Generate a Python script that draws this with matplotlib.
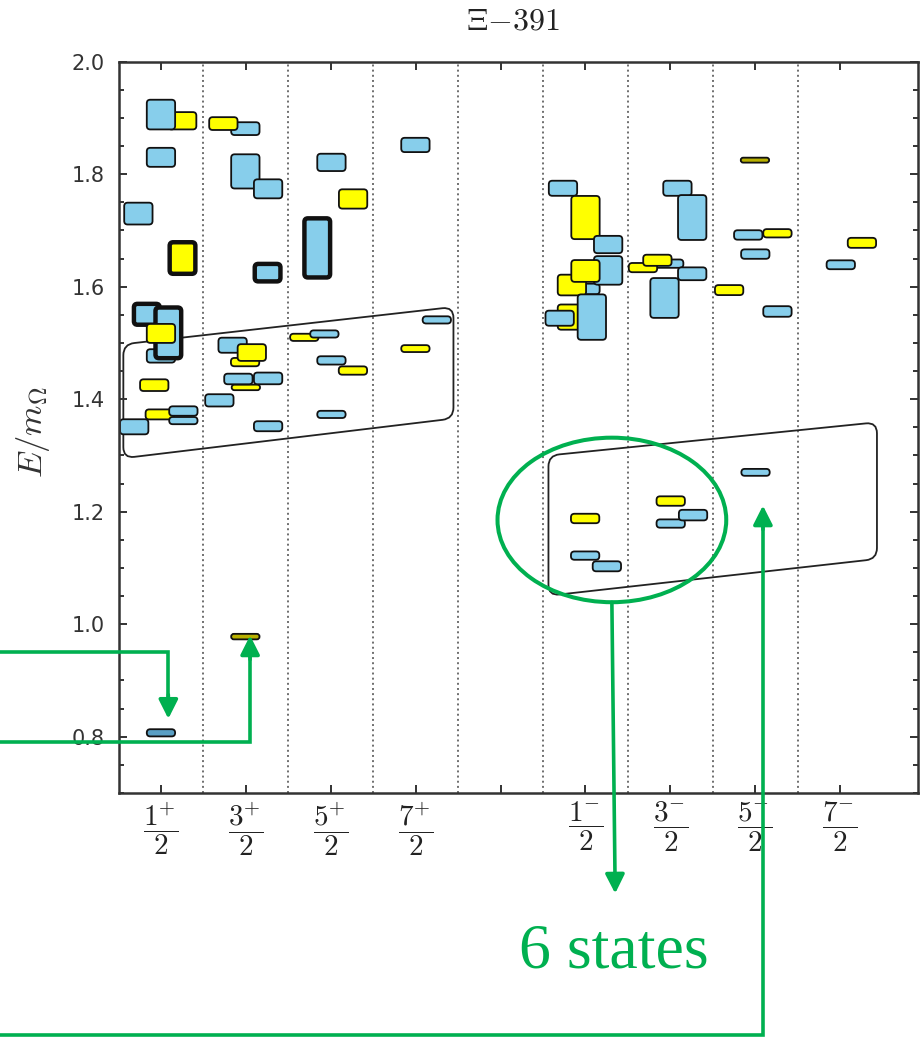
import numpy as np
import matplotlib
matplotlib.use('Agg')
import matplotlib.pyplot as plt
from matplotlib.patches import FancyBboxPatch, Ellipse, PathPatch
from matplotlib.path import Path
from matplotlib.ticker import MultipleLocator, FormatStrFormatter

plt.rcParams['mathtext.fontset'] = 'cm'

# ---------------- data ----------------
title = r'$\Xi{-}391$'
ylabel = r'$E/m_{\Omega}$'
jp_labels = [r'$\dfrac{1^{+}}{2}$', r'$\dfrac{3^{+}}{2}$', r'$\dfrac{5^{+}}{2}$',
             r'$\dfrac{7^{+}}{2}$', '',
             r'$\dfrac{1^{-}}{2}$', r'$\dfrac{3^{-}}{2}$', r'$\dfrac{5^{-}}{2}$',
             r'$\dfrac{7^{-}}{2}$']

# energy levels (drawing order): horizontal position in J^P-column units,
# energy E/m_Omega, vertical extent (uncertainty band), kind, bold outline
level_x = [0.25, 0.0, 0.0, -0.266, 0.254, 0.0, -0.167, 0.087, 0.0, -0.079,
           -0.014, 0.264, 0.264, -0.315, 0.0,
           0.994, 0.735, 0.994, 1.262, 1.256, 0.991, 0.844, 1.07, 1.0, 0.912,
           1.262, 0.688, 1.262, 0.994,
           2.008, 2.263, 1.841, 1.688, 1.925, 2.008, 2.261, 2.008,
           2.997, 3.249, 2.997,
           4.735, 5.0, 5.267, 5.0, 5.267, 4.84, 5.0, 4.84, 4.696, 5.075,
           6.083, 6.257, 5.986, 5.677, 5.847, 6.257, 5.931,
           6.996, 6.917, 7.261, 7.0, 6.692, 7.261,
           8.256, 8.007,
           4.996, 4.996, 5.252, 6.004, 6.004, 6.267, 7.003]
level_E = [1.895, 1.906, 1.830, 1.730, 1.651, 1.477, 1.551, 1.518, 1.517, 1.425,
           1.373, 1.362, 1.379, 1.351, 0.807,
           1.881, 1.890, 1.805, 1.774, 1.625, 1.466, 1.496, 1.483, 1.421, 1.436,
           1.437, 1.398, 1.352, 0.978,
           1.821, 1.756, 1.669, 1.510, 1.516, 1.469, 1.451, 1.373,
           1.852, 1.541, 1.490,
           1.775, 1.723, 1.675, 1.596, 1.629, 1.603, 1.628, 1.546, 1.544, 1.546,
           1.775, 1.723, 1.641, 1.634, 1.647, 1.623, 1.580,
           1.825, 1.692, 1.695, 1.658, 1.594, 1.556,
           1.678, 1.639,
           1.188, 1.122, 1.103, 1.219, 1.179, 1.194, 1.270]
level_dE = [0.034, 0.056, 0.037, 0.042, 0.064, 0.027, 0.045, 0.098, 0.037, 0.024,
            0.021, 0.016, 0.020, 0.030, 0.016,
            0.026, 0.026, 0.064, 0.037, 0.039, 0.018, 0.030, 0.033, 0.013, 0.022,
            0.024, 0.025, 0.021, 0.013,
            0.034, 0.0375, 0.113, 0.016, 0.016, 0.018, 0.018, 0.016,
            0.0286, 0.016, 0.0155,
            0.030, 0.080, 0.034, 0.022, 0.054, 0.040, 0.042, 0.048, 0.030, 0.084,
            0.030, 0.083, 0.018, 0.0196, 0.023, 0.026, 0.074,
            0.012, 0.020, 0.018, 0.020, 0.021, 0.022,
            0.021, 0.019,
            0.020, 0.018, 0.021, 0.020, 0.018, 0.022, 0.0155]
level_kind = ['y', 'b', 'b', 'b', 'y', 'b', 'b', 'b', 'y', 'y',
              'y', 'b', 'b', 'b', 'd',
              'b', 'y', 'b', 'b', 'b', 'y', 'b', 'y', 'y', 'b',
              'b', 'b', 'b', 'o',
              'b', 'y', 'b', 'y', 'b', 'b', 'y', 'b',
              'b', 'b', 'y',
              'b', 'y', 'b', 'b', 'b', 'y', 'y', 'y', 'b', 'b',
              'b', 'b', 'b', 'y', 'y', 'b', 'b',
              'o', 'b', 'y', 'b', 'y', 'b',
              'y', 'b',
              'y', 'b', 'b', 'y', 'b', 'b', 'b']
level_bold = [0, 0, 0, 0, 1, 0, 1, 1, 0, 0,
              0, 0, 0, 0, 0,
              0, 0, 0, 0, 1, 0, 0, 0, 0, 0,
              0, 0, 0, 0,
              0, 0, 1, 0, 0, 0, 0, 0,
              0, 0, 0,
              0, 0, 0, 0, 0, 0, 0, 0, 0, 0,
              0, 0, 0, 0, 0, 0, 0,
              0, 0, 0, 0, 0, 0,
              0, 0,
              0, 0, 0, 0, 0, 0, 0]

# slanted bands enclosing the low-lying states
band_pos_x = [-0.443, 3.445]
band_pos_top = [1.4977, 1.564]
band_pos_bot = [1.2952, 1.3657]
band_neg_x = [4.564, 8.433]
band_neg_top = [1.300, 1.359]
band_neg_bot = [1.0507, 1.116]

# green overlay annotations
ann_text = '6 states'
ann1_y, ann1_x, ann1_tip = 0.950, 0.087, 0.832
ann2_y, ann2_x, ann2_tip = 0.790, 1.05, 0.980
ell_center, ell_w, ell_h = (5.311, 1.1854), 2.694, 0.2925
ann3_start, ann3_tip = (5.311, 1.039), (5.35, 0.5214)
text_pos = (5.338, 0.3897)
ann4_y, ann4_x, ann4_tip = 0.270, 7.09, 1.211

# ---------------- figure ----------------
W, H = 922, 1037
fig = plt.figure(figsize=(W / 100, H / 100), dpi=100)
L, R, B, T = 118.5, 918.3, 793.0, 61.7
ax = fig.add_axes([L / W, 1 - B / H, (R - L) / W, (B - T) / H])
XMIN, XMAX, YMIN, YMAX = -0.5, 8.92, 0.7, 2.0
ax.set_xlim(XMIN, XMAX)
ax.set_ylim(YMIN, YMAX)
sx = (R - L) / (XMAX - XMIN)
sy = (B - T) / (YMAX - YMIN)

colors = {'b': '#87CEEB', 'y': '#FFFF00', 'o': '#B8B000', 'd': '#5A9FC4'}

# column separators
for xv in np.arange(0.5, 8.0, 1.0):
    ax.axvline(xv, color='#6e6e6e', ls=':', lw=1.4, zorder=0.5)

# boxes
bw = 0.355
asp = sx / sy
for x, E, h, k, bold in zip(level_x, level_E, level_dE, level_kind, level_bold):
    lw = 3.2 if bold else 1.3
    lwpx = lw * 100 / 72
    w_in = bw - lwpx / sx
    h_in = max(h - lwpx / sy, 0.004)
    r = min(3.5 / sx, w_in / 2, h_in / asp / 2 * 0.98)
    p = FancyBboxPatch((x - w_in / 2, E - h_in / 2), w_in, h_in,
                       boxstyle=f'round,pad=0,rounding_size={r}',
                       mutation_aspect=asp, fc=colors[k], ec='#111111',
                       lw=lw, zorder=2)
    ax.add_patch(p)


def rounded_poly(xs, ys, rad_px):
    P = np.column_stack([np.asarray(xs) * sx, np.asarray(ys) * sy])
    n = len(P)
    verts, codes = [], []
    for i in range(n):
        prev, cur, nxt = P[i - 1], P[i], P[(i + 1) % n]
        d1 = (prev - cur) / np.linalg.norm(prev - cur)
        d2 = (nxt - cur) / np.linalg.norm(nxt - cur)
        a = cur + d1 * rad_px
        b = cur + d2 * rad_px
        verts.append(a)
        codes.append(Path.MOVETO if i == 0 else Path.LINETO)
        verts += [cur, b]
        codes += [Path.CURVE3, Path.CURVE3]
    verts.append(verts[0])
    codes.append(Path.CLOSEPOLY)
    V = np.array(verts, dtype=float)
    V[:, 0] /= sx
    V[:, 1] /= sy
    return Path(V, codes)


for bx, btop, bbot in [(band_pos_x, band_pos_top, band_pos_bot),
                       (band_neg_x, band_neg_top, band_neg_bot)]:
    xs = [bx[0], bx[1], bx[1], bx[0]]
    ys = [bbot[0], bbot[1], btop[1], btop[0]]
    ax.add_patch(PathPatch(rounded_poly(xs, ys, 11), fill=False,
                           ec='#222222', lw=1.3, zorder=1.5))

# axes styling
ax.set_xticks(range(9))
ax.set_xticklabels(jp_labels, fontsize=21)
ax.yaxis.set_major_locator(MultipleLocator(0.2))
ax.yaxis.set_minor_locator(MultipleLocator(0.05))
ax.yaxis.set_major_formatter(FormatStrFormatter('%.1f'))
ax.tick_params(which='both', direction='in', top=True, right=True,
               color='#333333', width=1.4)
ax.tick_params(which='major', length=6)
ax.tick_params(which='minor', length=3.5)
ax.tick_params(axis='y', labelsize=15, pad=10, labelcolor='#333333')
ax.tick_params(axis='x', pad=5, labelcolor='#222222')
for s in ax.spines.values():
    s.set_linewidth(1.8)
    s.set_color('#333333')

fig.text(513 / W, 1 - 21.5 / H, title, ha='center', va='center',
         fontsize=23, color='#222222')
fig.text(33 / W, 1 - 432 / H, ylabel, ha='center', va='center',
         rotation=90, fontsize=25, color='#333333')

# ---------------- green overlay ----------------
G = '#00B050'
glw = 2.6
xL = XMIN - L / sx
head = 16 / sy
astyle = '-|>,head_length=1.15,head_width=0.58'


def arrow(xy_from, xy_to):
    ax.annotate('', xy=xy_to, xytext=xy_from, annotation_clip=False,
                arrowprops=dict(arrowstyle=astyle, color=G, lw=glw,
                                shrinkA=0, shrinkB=0, mutation_scale=10),
                zorder=10)


for yy, xx, tip in [(ann1_y, ann1_x, ann1_tip), (ann2_y, ann2_x, ann2_tip),
                    (ann4_y, ann4_x, ann4_tip)]:
    sgn = 1 if tip < yy else -1
    ax.plot([xL, xx, xx], [yy, yy, tip + sgn * head], color=G, lw=glw,
            clip_on=False, zorder=10, solid_joinstyle='miter',
            solid_capstyle='butt')
    arrow((xx, tip + sgn * head * 1.5), (xx, tip))

ax.add_patch(Ellipse(ell_center, ell_w, ell_h, fill=False, ec=G, lw=2.9,
                     clip_on=False, zorder=10))
arrow(ann3_start, ann3_tip)
ax.text(text_pos[0], text_pos[1], ann_text, ha='center', va='baseline',
        fontsize=46, color=G, family='Liberation Serif', zorder=10)

fig.savefig('out.png', dpi=100)
